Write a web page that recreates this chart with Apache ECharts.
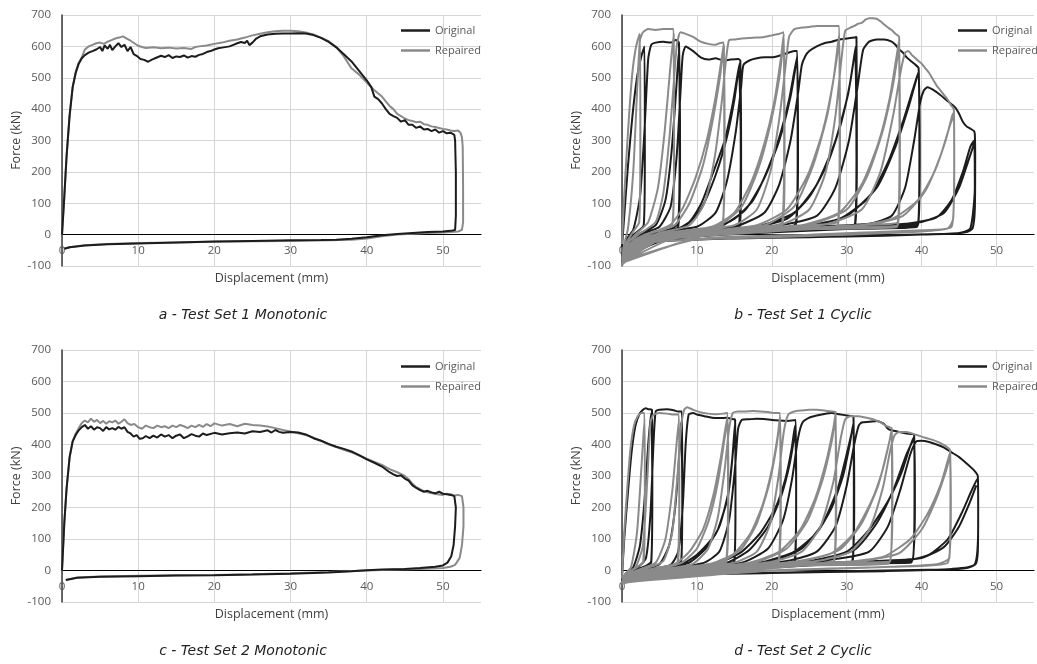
<!DOCTYPE html>
<html>
<head>
<meta charset="utf-8">
<script src="https://cdn.jsdelivr.net/npm/echarts@6/dist/echarts.min.js"></script>
<style>
  html, body { margin: 0; padding: 0; background: #fff; }
  #chart { width: 1037px; height: 664px; }
</style>
</head>
<body>
<div id="chart"></div>
<script>
// force (kN) vs displacement (mm)
const seriesNames = ['Original', 'Repaired'];
const captions = ['a - Test Set 1 Monotonic', 'b - Test Set 1 Cyclic', 'c - Test Set 2 Monotonic', 'd - Test Set 2 Cyclic'];
const yTicks = [-100, 0, 100, 200, 300, 400, 500, 600, 700];

// a - Test Set 1 Monotonic
const aOrig = [[0,0],[0.3,120],[0.6,250],[1,380],[1.4,470],[1.8,515],[2.2,545],[2.6,562],[3,572],[3.5,580],[4,585],[4.5,590],[5,598],[5.3,585],[5.6,603],[6,592],[6.3,605],[6.6,588],[7,600],[7.4,610],[7.8,598],[8.2,605],[8.6,585],[9,598],[9.4,575],[9.8,570],[10.3,560],[10.8,557],[11.3,551],[11.8,558],[12.3,563],[13,570],[13.5,566],[14,572],[14.5,563],[15,568],[15.5,566],[16,571],[16.5,564],[17,569],[17.5,567],[18,573],[18.5,576],[19,582],[19.5,585],[20,590],[20.5,594],[21,596],[22,600],[22.5,605],[23,610],[23.5,614],[24,611],[24.3,618],[24.6,604],[25,612],[25.5,625],[26,632],[27,638],[28,640],[29,641],[30,641],[31,642],[32,641],[33,636],[34,627],[35,614],[36,597],[37,575],[38,552],[39,522],[40,492],[40.6,470],[41,440],[41.5,432],[42,418],[42.5,400],[43,385],[43.5,378],[44,372],[44.5,360],[45,365],[45.5,350],[46,350],[46.5,340],[47,345],[47.5,335],[48,337],[48.5,330],[49,335],[49.5,325],[50,330],[50.5,323],[51,325],[51.5,318],[51.6,300],[51.7,200],[51.7,60],[51.6,15],[51,12],[50,10],[48,8],[46,5],[44,2],[42,-2],[40,-8],[38,-13],[36,-16],[34,-17],[30,-18],[25,-20],[20,-22],[15,-25],[10,-28],[6,-31],[3,-35],[1,-40],[0.3,-45]];
const aRep = [[0,0],[0.3,120],[0.6,250],[1,380],[1.4,470],[1.8,520],[2.2,548],[2.6,565],[3,590],[3.5,600],[4,605],[4.5,610],[5,612],[5.5,608],[6,615],[6.5,620],[7,625],[7.5,628],[8,632],[8.5,625],[9,618],[9.5,610],[10,602],[10.5,598],[11,595],[12,597],[13,594],[14,596],[15,593],[16,595],[17,592],[17.5,598],[18,600],[19,603],[20,608],[21,612],[22,618],[23,622],[24,628],[25,635],[26,640],[27,645],[28,648],[29,650],[30,650],[31,648],[32,644],[33,638],[34,628],[35,617],[36,598],[37,568],[38,530],[39,510],[40,485],[41,460],[42,440],[42.5,425],[43,410],[43.5,400],[44,385],[44.5,378],[45,370],[45.5,365],[46,362],[46.5,358],[47,360],[47.5,352],[48,350],[48.5,345],[49,343],[49.5,340],[50,337],[50.5,335],[51,332],[51.5,330],[52,332],[52.3,325],[52.5,310],[52.6,280],[52.65,150],[52.65,40],[52.5,15],[52,10],[50,7],[48,5],[46,3],[44,0],[42,-5],[40,-12],[38,-16],[35,-18],[30,-20],[25,-21],[20,-23],[15,-25],[10,-27],[6,-30],[3,-34],[1,-40],[0.3,-45]];

// b - Test Set 1 Cyclic
const bOrig = [
  [0,-40],[0.3,60],[0.8,220],[1.4,380],[2.0,500],[2.6,570],[3.0,600],[3.05,250],[2.9,30],[2.2,12],[1.0,-10],[0.3,-40],[0,-70],
  [0.6,-15],[1.5,15],[2.4,120],[3.0,330],[3.5,560],[3.9,605],[4.5,612],[5.5,615],[6.5,612],[7.2,620],[7.6,612],[7.7,300],[7.5,35],[6.5,18],[4,5],[2,-15],[0.5,-45],[0,-85],
  [0.8,-20],[2.5,5],[4.5,30],[5.8,110],[6.6,260],[7.2,450],[7.6,590],[7.75,250],[7.5,25],[5,8],[2.5,-12],[0.6,-40],[0,-75],
  [1,-20],[3,5],[5,25],[6.5,90],[7.3,250],[7.8,450],[8.1,570],[8.5,600],[9.5,585],[10.5,565],[11.5,558],[12.5,562],[13.5,555],[14.5,558],[15.5,560],[15.8,555],[15.85,250],[15.6,30],[13,15],[9,5],[5,-8],[2,-22],[0.5,-45],[0,-90],
  [1,-25],[3,0],[7,15],[9,40],[10.6,100],[12.2,200],[13.7,300],[14.8,420],[15.5,520],[15.8,550],[15.9,250],[15.7,30],[12,12],[7,0],[3,-15],[0.8,-40],[0,-80],
  [1.2,-20],[4,5],[8,20],[10.5,80],[12.5,190],[14,310],[15,430],[15.6,530],[15.9,200],[15.7,25],[11,10],[6,-2],[2,-20],[0,-70],
  [1.5,-15],[5,8],[10,25],[12.5,70],[14,170],[15.2,330],[15.9,470],[16.2,540],[17,555],[18,562],[19,565],[20,565],[21,570],[22,578],[23,585],[23.4,585],[23.45,250],[23.2,35],[20,20],[14,8],[8,-3],[3,-18],[0.6,-50],[0,-90],
  [1.5,-20],[6,5],[12,20],[15,50],[17.5,110],[19.5,210],[21,310],[22.3,430],[23,520],[23.4,570],[23.5,250],[23.2,30],[18,15],[10,3],[4,-15],[0.8,-45],[0,-80],
  [1.5,-20],[7,5],[13,25],[16.5,80],[19,180],[21,300],[22.5,440],[23.3,550],[23.45,200],[23.1,25],[16,10],[8,0],[3,-18],[0,-75],
  [2,-15],[8,5],[15,25],[19,70],[21,160],[22.5,300],[23.5,450],[24,540],[24.5,570],[25,585],[26,600],[27,610],[28,615],[29,622],[30,625],[31,628],[31.3,630],[31.35,250],[31.1,35],[27,25],[20,12],[12,0],[5,-15],[1,-45],[0,-90],
  [2,-20],[9,5],[17,20],[22,50],[25,120],[27.5,230],[29.3,360],[30.5,490],[31.2,600],[31.35,250],[31.1,30],[25,20],[15,5],[6,-12],[1,-40],[0,-80],
  [2,-20],[10,5],[18,25],[23,70],[26,160],[28.5,300],[30.2,450],[31.1,580],[31.3,250],[31,25],[23,15],[12,2],[4,-15],[0,-75],
  [3,-12],[10,8],[20,25],[26,60],[28.5,150],[30.3,300],[31.5,480],[32.2,590],[33,615],[34,622],[35,622],[36,615],[36.5,605],[37,590],[37.5,580],[38,565],[39,545],[39.6,530],[39.7,250],[39.5,35],[35,30],[28,20],[18,8],[8,-8],[2,-30],[0,-90],
  [3,-15],[12,5],[22,20],[29,50],[33,120],[35.5,230],[37.5,360],[38.8,460],[39.6,520],[39.75,250],[39.5,30],[33,25],[22,10],[10,-5],[2,-30],[0,-80],
  [3,-15],[13,5],[24,22],[30,60],[34,150],[36.5,280],[38.3,410],[39.5,510],[39.7,200],[39.4,25],[30,18],[18,5],[6,-15],[0,-75],
  [4,-10],[14,8],[25,25],[33,35],[36,60],[37.8,150],[39,300],[39.8,420],[40.3,460],[40.8,470],[41.5,462],[42.5,445],[43.5,425],[44.5,405],[45,385],[45.5,360],[46,345],[46.5,338],[47,330],[47.1,320],[47.15,250],[47.1,80],[46.8,20],[46,8],[44,3],[35,-2],[25,-8],[15,-12],[5,-20],[1,-40],[0,-60],
  [3,-15],[15,8],[30,25],[38,35],[42,55],[44,110],[45.5,200],[46.5,280],[47,300],[47.1,150],[46.5,20],[45,5],[40,0],[30,-6],[15,-12],[4,-25],[0,-65],
  [4,-12],[20,12],[35,30],[40,40],[43,70],[45,150],[46.3,240],[47,290]
];
const bRep = [
  [0,-30],[0.2,80],[0.6,250],[1.0,400],[1.4,520],[1.8,590],[2.1,620],[2.4,640],[2.45,300],[2.3,40],[1.5,10],[0.5,-30],[0,-80],
  [0.3,-30],[0.8,20],[1.5,200],[2.0,450],[2.4,620],[2.8,645],[3.5,655],[4.5,652],[5.5,655],[6.5,655],[6.9,655],[6.95,300],[6.8,40],[5,15],[2.5,-10],[0.8,-40],[0,-95],
  [0.5,-35],[2,5],[3.5,40],[4.8,150],[5.7,330],[6.4,520],[6.9,640],[6.95,250],[6.7,30],[4,8],[1.5,-20],[0,-90],
  [0.6,-30],[2.5,5],[4.5,40],[5.5,130],[6.3,300],[6.9,480],[7.3,600],[7.8,645],[8.5,640],[9.5,630],[10.5,615],[11.5,608],[12.5,605],[13,610],[13.6,612],[13.65,300],[13.5,40],[11,18],[7,5],[3.5,-15],[1,-45],[0,-100],
  [0.8,-35],[3,0],[6,20],[8,80],[9.8,180],[11.3,300],[12.5,440],[13.3,560],[13.6,610],[13.7,250],[13.4,30],[9,12],[4,-10],[1,-40],[0,-95],
  [1,-30],[4,5],[7,30],[9,100],[10.8,220],[12,350],[13,490],[13.6,600],[13.65,200],[13.4,25],[8,8],[3,-15],[0,-90],
  [1.2,-30],[5,5],[9,30],[11,100],[12.4,250],[13.3,420],[13.9,560],[14.3,620],[15,622],[16,625],[17,627],[18,628],[19,630],[20,635],[21,640],[21.6,645],[21.65,300],[21.4,40],[18,25],[12,10],[6,-5],[2,-28],[0,-95],
  [1.5,-30],[6,5],[12,25],[15,70],[17.3,170],[19,290],[20.3,420],[21.2,560],[21.6,640],[21.7,250],[21.4,30],[15,15],[8,0],[2,-30],[0,-95],
  [1.5,-30],[7,8],[13,30],[16,90],[18.2,210],[19.8,350],[21,500],[21.6,620],[21.7,200],[21.3,25],[14,12],[6,-5],[0,-90],
  [2,-25],[8,8],[15,30],[18,80],[19.8,200],[21,370],[21.8,530],[22.3,630],[23,655],[24,660],[25,662],[26,665],[27,665],[28,665],[29,665],[29.05,300],[28.8,40],[24,30],[16,15],[8,0],[2,-30],[0,-95],
  [2,-28],[10,8],[18,30],[22,80],[24.8,190],[26.8,330],[28.2,490],[29,640],[29.1,250],[28.8,30],[20,18],[10,2],[3,-25],[0,-95],
  [2,-28],[11,8],[19,30],[23,90],[25.5,220],[27.4,380],[28.6,550],[29,620],[29.1,200],[28.7,25],[18,15],[8,0],[0,-90],
  [3,-25],[12,10],[21,30],[25,80],[27.2,200],[28.5,380],[29.3,560],[29.8,650],[30.5,660],[31,665],[31.5,672],[32,675],[32.5,685],[33,690],[33.5,690],[34,688],[34.5,680],[35,670],[35.5,660],[36,652],[36.5,640],[37,630],[37.05,300],[36.8,40],[31,30],[22,18],[12,5],[4,-20],[0,-95],
  [3,-25],[14,10],[24,30],[29,70],[32,160],[34.2,290],[35.7,430],[36.6,560],[37,620],[37.1,250],[36.8,30],[28,22],[16,8],[5,-15],[0,-95],
  [3,-25],[15,10],[25,32],[30,80],[32.8,190],[34.8,330],[36.2,480],[37,600],[37.1,200],[36.7,25],[26,18],[12,3],[0,-90],
  [4,-20],[16,12],[27,32],[32,80],[34.5,200],[36.2,380],[37.2,520],[37.8,580],[38.2,585],[38.8,570],[39.5,555],[40,545],[40.5,530],[41,515],[41.5,495],[42,475],[42.5,460],[43,445],[43.5,430],[44,410],[44.3,400],[44.35,250],[44.2,50],[43.5,20],[40,10],[30,0],[20,-8],[10,-15],[3,-30],[0,-90],
  [4,-22],[18,10],[30,25],[36,50],[39.5,110],[41.7,200],[43.2,300],[44.1,380],[44.3,390],[44.35,200],[44,25],[38,12],[25,0],[10,-15],[0,-85],
  [5,-18],[20,10],[32,28],[37.5,60],[40.5,140],[42.5,250],[43.8,350],[44.3,380]
];

// c - Test Set 2 Monotonic
const cOrig = [[0,0],[0.3,150],[0.6,260],[1,360],[1.4,410],[1.8,430],[2.2,445],[2.6,455],[3,462],[3.4,450],[3.8,458],[4.2,447],[4.6,455],[5,452],[5.4,443],[5.8,455],[6.2,448],[6.6,452],[7,447],[7.4,456],[7.8,450],[8.2,455],[8.6,440],[9,435],[9.4,425],[9.8,430],[10.2,418],[10.6,420],[11,427],[11.5,420],[12,428],[12.5,422],[13,432],[13.5,425],[14,430],[14.5,420],[15,428],[15.5,432],[16,420],[16.5,426],[17,433],[17.5,428],[18,425],[18.5,435],[19,430],[20,437],[21,432],[22,436],[23,438],[24,435],[25,442],[26,440],[27,445],[27.5,438],[28,446],[28.5,440],[29,437],[30,440],[31,438],[32,432],[33,420],[34,412],[35,402],[36,393],[37,386],[38,378],[39,366],[40,353],[41,342],[42,330],[43,312],[43.5,305],[44,300],[44.5,302],[45,292],[45.5,285],[46,270],[46.5,262],[47,255],[47.5,250],[48,253],[48.5,248],[49,245],[49.5,250],[50,244],[50.5,242],[51,240],[51.5,236],[51.7,200],[51.6,140],[51.4,80],[51.1,45],[50.6,25],[50,16],[49,12],[47,8],[45,5],[42,3],[40,1],[38,-2],[35,-6],[30,-10],[25,-13],[20,-15],[15,-16],[10,-18],[5,-20],[2,-23],[0.5,-30]];
const cRep = [[0,0],[0.3,150],[0.6,260],[1,360],[1.4,410],[1.8,435],[2.2,452],[2.6,468],[3,476],[3.4,470],[3.8,482],[4.2,472],[4.6,478],[5,468],[5.4,475],[5.8,466],[6.2,474],[6.6,470],[7,476],[7.4,466],[7.8,472],[8.2,480],[8.6,468],[9,462],[9.5,465],[10,455],[10.5,450],[11,460],[11.5,455],[12,452],[12.5,460],[13,455],[13.5,458],[14,452],[14.5,460],[15,455],[15.5,462],[16,458],[16.5,452],[17,460],[17.5,455],[18,462],[18.5,456],[19,465],[19.5,458],[20,467],[21,460],[22,465],[23,458],[24,466],[25,462],[26,460],[27,457],[28,452],[29,446],[30,441],[31,436],[32,430],[33,422],[34,412],[35,400],[36,392],[37,383],[38,375],[39,365],[40,355],[41,345],[42,335],[43,322],[44,312],[45,300],[45.5,290],[46,275],[46.5,265],[47,258],[47.5,252],[48,248],[49,243],[50,240],[50.5,244],[51,242],[51.5,238],[52,240],[52.5,236],[52.7,200],[52.7,140],[52.5,80],[52.2,40],[51.6,18],[51,12],[50,8],[47,5],[44,3],[40,0],[35,-5],[30,-9],[25,-12],[20,-14],[15,-15],[10,-17],[5,-19],[2,-22],[0.5,-30]];

// d - Test Set 2 Cyclic
const dOrig = [
  [0,-20],[0.3,100],[0.8,250],[1.3,380],[1.8,460],[2.3,495],[2.8,510],[3.2,515],[3.5,512],[4.0,510],[4.05,250],[3.9,30],[3,12],[1.5,0],[0.4,-15],[0,-35],
  [0.5,-10],[1.5,10],[2.4,80],[3.0,220],[3.5,400],[3.9,500],[4.05,250],[3.9,25],[2.5,8],[0.8,-10],[0,-30],
  [0.6,-10],[2,8],[3.2,40],[3.8,180],[4.2,400],[4.5,505],[5,510],[6,512],[7,508],[7.5,505],[8,505],[8.05,250],[7.9,30],[6,12],[3,2],[1,-12],[0,-35],
  [0.8,-12],[3,5],[5,20],[6.3,80],[7.1,200],[7.6,350],[7.9,470],[8.05,250],[7.9,25],[5,8],[2,-8],[0,-32],
  [1,-10],[4,5],[6.5,18],[7.5,60],[8.1,200],[8.5,400],[8.9,495],[9.5,500],[10,495],[11,490],[12,485],[13,484],[14,485],[14.5,482],[15,480],[15.1,478],[15.15,250],[15,30],[12,15],[7,3],[3,-8],[0,-35],
  [1,-12],[5,5],[8,20],[10,50],[12,100],[12.8,130],[14.1,230],[14.7,350],[15.1,470],[15.15,250],[15,25],[11,12],[5,0],[1,-15],[0,-32],
  [1.5,-10],[6,8],[9,25],[11.2,70],[13,140],[14.3,260],[14.9,400],[15.1,460],[15.15,200],[14.9,20],[9,8],[3,-5],[0,-30],
  [2,-10],[7,8],[11,25],[13,60],[14.3,160],[15.1,330],[15.5,450],[16,478],[17,480],[18,482],[19,481],[20,478],[21,476],[22,475],[23,477],[23.2,478],[23.25,250],[23.1,30],[19,20],[12,8],[5,-5],[0,-35],
  [2,-12],[8,8],[13,25],[16,60],[18.5,120],[20.5,200],[21.8,290],[22.6,380],[23.1,460],[23.25,250],[23,25],[17,15],[8,2],[2,-12],[0,-32],
  [2,-12],[9,8],[14,25],[17,65],[19.5,140],[21.3,240],[22.4,340],[23.2,450],[23.25,200],[22.9,20],[15,12],[6,0],[0,-30],
  [3,-10],[10,10],[16,25],[19.5,70],[21.5,160],[22.7,290],[23.5,420],[24.1,470],[25,485],[26,492],[27,497],[28,500],[29,496],[30,492],[30.9,488],[30.95,250],[30.8,30],[26,25],[18,15],[9,3],[2,-12],[0,-35],
  [3,-12],[12,8],[19,28],[23,60],[26,120],[28,200],[29.5,300],[30.4,400],[30.9,470],[31,250],[30.7,28],[24,20],[14,8],[5,-5],[0,-32],
  [3,-12],[13,10],[20,30],[24,70],[26.8,150],[28.8,260],[30.1,380],[30.9,460],[31,200],[30.6,25],[22,18],[10,3],[0,-30],
  [4,-10],[14,10],[22,30],[26,60],[28.5,140],[30,270],[31,400],[31.6,460],[32,470],[33,472],[34,475],[35,465],[35.5,450],[36,445],[37,440],[38,435],[39,430],[39.05,250],[38.8,35],[34,30],[25,20],[14,8],[4,-8],[0,-35],
  [4,-12],[16,10],[25,30],[30,60],[33,130],[35.5,220],[37.3,310],[38.4,390],[39,425],[39.1,250],[38.7,30],[31,25],[18,10],[6,-5],[0,-32],
  [4,-12],[17,12],[26,32],[31,65],[34,150],[36.3,260],[38,370],[39,420],[39.1,200],[38.6,25],[29,22],[15,8],[0,-30],
  [5,-10],[18,12],[28,35],[33,60],[35.5,140],[37.2,260],[38.5,370],[39.3,410],[40,412],[41,408],[42,400],[43,390],[44,375],[45,360],[46,340],[47,318],[47.5,300],[47.55,200],[47.5,60],[47.2,20],[46,8],[43,3],[35,0],[25,-5],[15,-10],[5,-15],[0,-30],
  [5,-12],[20,10],[32,25],[38,32],[41,50],[43.5,100],[45.3,180],[46.6,250],[47.4,290],[47.55,150],[47.1,20],[44,5],[35,-2],[20,-8],[5,-15],[0,-28],
  [6,-10],[22,12],[34,30],[40,40],[43,75],[45,140],[46.5,220],[47.3,270]
];
const dRep = [
  [0,-25],[0.3,120],[0.7,260],[1.1,380],[1.6,460],[2.1,490],[2.6,500],[3.0,500],[3.05,250],[2.9,30],[2,10],[0.8,-8],[0,-40],
  [0.4,-12],[1.2,10],[2.0,120],[2.6,330],[3.0,480],[3.05,250],[2.8,25],[1.5,5],[0,-38],
  [0.5,-12],[1.8,10],[2.8,80],[3.4,300],[3.8,470],[4.2,495],[5,500],[6,498],[7,495],[7.6,495],[7.65,250],[7.5,30],[5.5,10],[2.5,-2],[0.8,-18],[0,-42],
  [0.6,-15],[2.5,5],[4.5,25],[5.8,100],[6.7,250],[7.2,380],[7.6,480],[7.65,250],[7.4,25],[4.5,8],[1.5,-10],[0,-40],
  [0.8,-15],[3,5],[5.5,30],[6.7,120],[7.4,300],[7.9,460],[8.3,510],[8.7,518],[9.5,510],[10.5,502],[11.5,498],[12.5,496],[13.5,498],[14.1,500],[14.15,250],[13.9,30],[10,15],[5,3],[1.5,-12],[0,-42],
  [1,-15],[4,5],[7,20],[9,60],[10.8,130],[12.2,240],[13.2,360],[13.8,450],[14.1,490],[14.2,250],[13.9,25],[9,10],[3,-5],[0,-40],
  [1,-15],[5,5],[8,25],[10,70],[11.6,160],[12.8,280],[13.7,420],[14.1,480],[14.2,200],[13.8,20],[7,6],[0,-38],
  [1.5,-15],[6,5],[9.5,22],[11.5,70],[12.8,170],[13.7,320],[14.3,450],[14.8,500],[15.5,505],[16.5,505],[17.5,506],[18.5,505],[19.5,503],[20.5,500],[21.1,500],[21.15,250],[20.9,30],[17,18],[10,5],[4,-8],[0,-42],
  [1.5,-18],[7,5],[12,22],[15,55],[17.2,120],[18.8,210],[20,320],[20.8,430],[21.1,490],[21.2,250],[20.9,25],[14,12],[6,0],[0,-40],
  [2,-15],[8,5],[13,25],[16,70],[18,150],[19.6,270],[20.6,390],[21.1,480],[21.2,200],[20.8,22],[12,10],[0,-38],
  [2,-15],[9,6],[15,25],[18,60],[19.8,150],[20.9,300],[21.6,440],[22.2,495],[23,505],[24,508],[25,510],[26,510],[27,508],[28,505],[28.5,503],[28.55,250],[28.3,30],[24,22],[16,10],[7,-3],[0,-42],
  [2,-18],[10,6],[17,25],[21,60],[23.8,130],[25.8,230],[27.3,350],[28.2,450],[28.5,495],[28.6,250],[28.3,28],[21,15],[10,2],[0,-40],
  [3,-15],[11,8],[18,28],[22,70],[24.8,160],[26.8,290],[28,410],[28.5,485],[28.6,200],[28.2,22],[18,12],[0,-38],
  [3,-15],[12,8],[20,28],[24,60],[26.5,140],[28.2,280],[29.2,420],[29.8,480],[30.5,490],[31.5,490],[32.5,486],[33.5,480],[34.5,470],[35.2,460],[35.7,455],[36,452],[36.05,250],[35.8,30],[30,25],[20,12],[8,0],[0,-42],
  [3,-18],[14,8],[23,28],[28,55],[31,120],[33.3,220],[34.8,320],[35.7,410],[36,448],[36.1,250],[35.7,28],[27,20],[14,5],[0,-40],
  [4,-15],[15,10],[24,30],[29,65],[32,150],[34.2,270],[35.4,380],[36,440],[36.1,200],[35.6,22],[24,15],[0,-38],
  [4,-15],[16,10],[26,30],[30.5,60],[33,130],[34.8,260],[35.8,380],[36.4,430],[37,440],[38,440],[39,433],[40,425],[41,418],[42,410],[43,398],[43.5,390],[43.8,382],[43.85,250],[43.7,40],[42,20],[36,12],[25,3],[12,-8],[0,-40],
  [5,-15],[18,10],[30,28],[35,45],[38.5,100],[40.8,180],[42.5,270],[43.5,350],[43.8,375],[43.9,200],[43.5,25],[36,12],[20,0],[0,-38],
  [5,-15],[20,10],[32,30],[37,55],[40,130],[42,230],[43.3,320],[43.8,365]
];

const panels = [
  { orig: aOrig, rep: aRep, cyclic: false },
  { orig: bOrig, rep: bRep, cyclic: true },
  { orig: cOrig, rep: cRep, cyclic: false },
  { orig: dOrig, rep: dRep, cyclic: true }
];

const ORIG_COLOR = '#1c1c1c';
const REP_COLOR = '#8a8a8a';
const FONT = '"Open Sans", sans-serif';
const grids = [
  { left: 62, top: 15, width: 419, height: 251 },
  { left: 622, top: 15, width: 420, height: 251 },
  { left: 62, top: 350, width: 419, height: 252 },
  { left: 622, top: 350, width: 420, height: 252 }
];
// last split line (at x = 55) is hidden
const vGrid = ['#d6d6d6', '#d6d6d6', '#d6d6d6', '#d6d6d6', '#d6d6d6', '#d6d6d6', 'rgba(0,0,0,0)'];

const chart = echarts.init(document.getElementById('chart'));

// x axis sits on the zero line: lift it by the -100..0 band
const xAxes = grids.map((g, i) => ({
  type: 'value', gridIndex: i, min: 0, max: 55, interval: 10,
  position: 'bottom', offset: -g.height / 8,
  name: 'Displacement (mm)', nameLocation: 'middle', nameGap: 37,
  nameTextStyle: { color: '#404040', fontSize: 12.5, fontFamily: FONT },
  axisLine: { onZero: false, lineStyle: { color: '#000', width: 1.2 } },
  axisTick: { show: false },
  axisLabel: { color: '#595959', fontSize: 11.5, fontFamily: FONT, margin: 10,
    formatter: v => (v % 10 === 0 ? String(v) : '') },
  splitLine: { show: true, lineStyle: { color: vGrid, width: 1 } }
}));

const yAxes = grids.map((g, i) => ({
  type: 'value', gridIndex: i, min: yTicks[0], max: yTicks[yTicks.length - 1], interval: 100,
  name: 'Force (kN)', nameLocation: 'middle', nameGap: 39,
  nameTextStyle: { color: '#404040', fontSize: 12.5, fontFamily: FONT },
  axisLine: { show: true, onZero: false, lineStyle: { color: '#3a3a3a', width: 1.5 } },
  axisTick: { show: false },
  axisLabel: { color: '#595959', fontSize: 11.5, fontFamily: FONT, margin: 11 },
  splitLine: { show: true, lineStyle: { color: '#d6d6d6', width: 1 } }
}));

const series = [];
panels.forEach((p, i) => {
  const common = {
    type: 'line', xAxisIndex: i, yAxisIndex: i, showSymbol: false, symbol: 'none',
    smooth: p.cyclic ? 0.2 : false, animation: false, clip: true
  };
  if (p.cyclic) {
    series.push(Object.assign({}, common, { name: seriesNames[0], data: p.orig,
      lineStyle: { color: ORIG_COLOR, width: 2 }, itemStyle: { color: ORIG_COLOR } }));
    series.push(Object.assign({}, common, { name: seriesNames[1], data: p.rep,
      lineStyle: { color: REP_COLOR, width: 2 }, itemStyle: { color: REP_COLOR } }));
  } else {
    series.push(Object.assign({}, common, { name: seriesNames[1], data: p.rep,
      lineStyle: { color: REP_COLOR, width: 2 }, itemStyle: { color: REP_COLOR } }));
    series.push(Object.assign({}, common, { name: seriesNames[0], data: p.orig,
      lineStyle: { color: ORIG_COLOR, width: 2 }, itemStyle: { color: ORIG_COLOR } }));
  }
});

const legendPos = [[396, 20], [953, 20], [396, 356], [953, 356]];
const legends = legendPos.map(([l, t]) => ({
  data: seriesNames, left: l, top: t, orient: 'vertical', itemGap: 9,
  icon: 'rect', itemWidth: 29, itemHeight: 2.5, selectedMode: false,
  textStyle: { color: '#595959', fontSize: 11, fontFamily: FONT }
}));

const capPos = [[243, 315], [803, 315], [243, 651], [803, 651]];
const graphics = captions.map((c, i) => ({
  type: 'text', x: capPos[i][0], y: capPos[i][1],
  style: { text: c, fill: '#222', font: 'italic 14px "DejaVu Sans", sans-serif',
    textAlign: 'center', textVerticalAlign: 'middle' }
}));

chart.setOption({
  backgroundColor: '#fff',
  animation: false,
  grid: grids,
  xAxis: xAxes,
  yAxis: yAxes,
  legend: legends,
  graphic: graphics,
  series: series
});
</script>
</body>
</html>
